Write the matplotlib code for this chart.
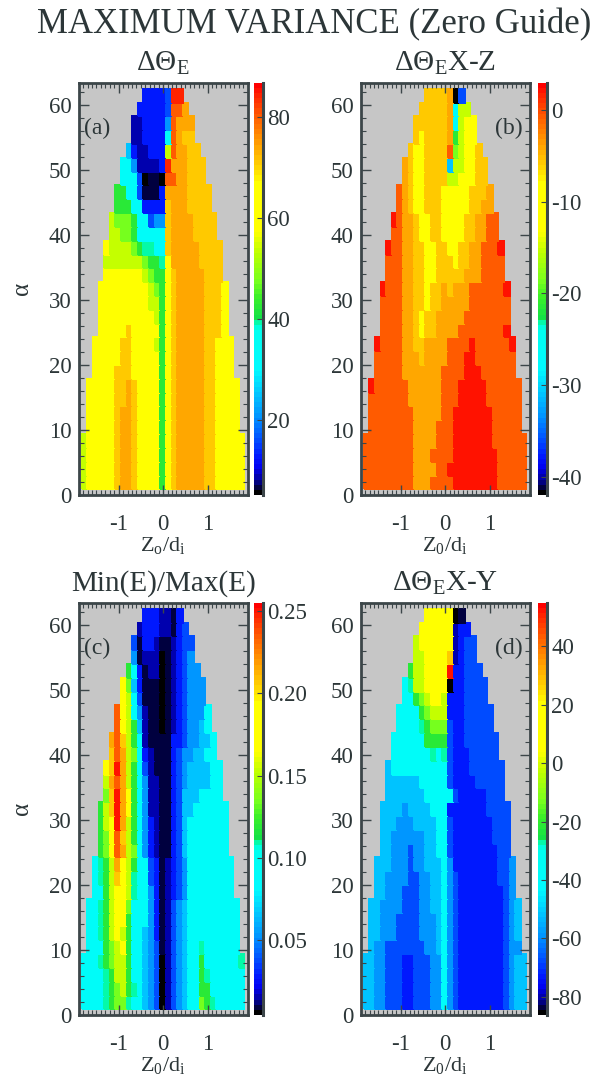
import numpy as np
import matplotlib
matplotlib.use("Agg")
import matplotlib.pyplot as plt
from matplotlib.colors import LinearSegmentedColormap
from matplotlib.ticker import MultipleLocator

plt.rcParams['font.family'] = ['Liberation Serif', 'DejaVu Serif']
plt.rcParams['mathtext.fontset'] = 'custom'
plt.rcParams['mathtext.rm'] = 'Liberation Serif'
plt.rcParams['mathtext.it'] = 'Liberation Serif:italic'
plt.rcParams['axes.unicode_minus'] = False

INK = '#2c3638'
FRAME = '#3c4649'
GREY = '#c6c6c6'

# colour code of each cell -> place on the colour bar (0 = bottom, 1 = top)
levels = {'k': 0.005, 'n': 0.02, 'd': 0.045, 'b': 0.09, 'm': 0.13, 'l': 0.19,
          's': 0.24, 'c': 0.34, 't': 0.415, 'g': 0.46, 'h': 0.52, 'y': 0.59,
          'Y': 0.70, 'o': 0.80, 'O': 0.845, 'r': 0.92, 'R': 0.975}

# rows from alpha ~61 (top) down to alpha ~2, only the filled cells (centred on Z0 = 0)
rows_a = ["bbbbmRR", "bbbbbmrrO", "ddbbbblrOOO", "ddbbbbcrOoo", "sbddbbbyrOOoo",
          "cclddddbROOOooo", "cccmknnkrrOOooo", "ggccmnnnbOOOOoooo", "gggccbbbboOOOoooo",
          "yhhhgccmlloOOOOoooo", "yyhhgcccccoOOOOoooo",
          "YyyyyhgttccoOOOOOoooo", "yyyyyyyhggtYOOOOOoooo", "YYYYYYYyhggYoOOOOOooo",
          "YYYYYYYYYyhgYoOOOOOoooY", "YYYYYYYYYyygYoOOOOOoooY",
          "YYYYYYYYYYygYoOOOOOoooY", "YYYYYoYYYYYgYoOOOOOoooY",
          "YYYYYooYYYYygYoOOOOOooYYY", "YYYYYooYYYYYgYoOOOOOooYYY", "YYYYoooYYYYYgYoOOOOOooYYY",
          "YYYYYooOoYYYYgYoOOOOOooYYYY", "YYYYYooOoYYYYgYoOOOOOooYYYY",
          "YYYYYoOOoYYYYgYoOOOOOooYYYY", "YYYYYoOOoYYYYgYoOOOOOooYYYY",
          "yYYYYYoOOoYYYYgYoOOOOOooYYYYY", "yYYYYYoOOoYYYYgYoOOOOOooYYYYY",
          "yYYYYYoOOoYYYYgYoOOOOOooYYYYY", "yYYYYYoOOoYYYYgYoOOOOOooYYYYY"]

rows_b = ["ooooOkm", "oooooOcyy", "ooooooOcyYY", "oYooooOgyYY", "oYYoooorhyYYo",
          "OoYYoooosyyYYoo", "OoYYooooyyYYYoo", "rOoYYoooYYYYYoooO", "rOoYYoooYYYYYooOO",
          "RrOOoYYooYYYYooOOrr", "rrOOoYYooYYYYooOOrr",
          "RrrOOooYYooYYooOOrrrR", "rrrOOooYYoooYooOOrrrr", "rrrOOooYYoooooOOOrrrr",
          "RrrrOOooYooOoOOOrrrrrrR", "rrrrOOooYooOOOOOrrrrrrr",
          "rrrrOOoYooOOOOOrrrrrrrr", "rrrrOOoYooOOOOrrrrrrrrR",
          "RrrrrOOooOOOOrrrrRrrrrrrR", "rrrrrOOOoOOOOrrrRRrrrrrrr", "rrrrrOOOOOOOrrrrRRRrrrrrr",
          "RrrrrrrOOOOOOrrrRRRRRrrrrrr", "rrrrrrrOOOOOOrrrRRRRRrrrrrr",
          "rrrrrrrrOOOOOrrRRRRRRRrrrrr", "rrrrrrrrOOOOrrrRRRRRRRrrrrr",
          "rrrrrrrrrOOOOrrrRRRRRRRrrrrrr", "rrrrrrrrrOOOrrrrRRRRRRRRrrrrr",
          "rrrrrrrrrOOOOrrRRRRRRRRRrrrrr", "rrrrrrrrrOOOrrrrRRRRRRRRrrrrr"]

rows_c = ["bbbddnb", "dbbbddnbm", "mnbbdnndbmm", "lndddkndbml", "gcbnddkndbmll",
          "Yhsbnnnkndbmlll", "Yycmnnnkndbmlll", "rYycldnnkndbmlllc", "rYygsdnnkndbmllsc",
          "Oroygcdnnnnbbmllssc", "orOyhcbdnnnbmllsscc",
          "YoROygcmdnnnbmlsssscc", "yOrOygclddnnbmlsssscc", "hoROYgclddnnbmssscccc",
          "gyoROYgclddnnbmsscccccc", "gyYROygclbdnnbmsccccccc",
          "ghYroygclbdnnbmsccccccc", "ghYrOyhclbdnnbmsccccccc",
          "ctgyOYygccmbndbmlcccccccc", "ctgyoYytccmbndbmlcccccccc", "ccgyYYytcclbndbmlcccccccc",
          "cctgyYYhccclbndmlsccccccccc", "cctgyYYgccclbndmlsccccccccc",
          "cctgyYygccslbndmlsccccccccc", "cccghyYgccslmndmlscctcccccc",
          "ccctghyygccslmkdmlsccgcccccct", "cccctgyygccslmkdmlsccgtcccccc",
          "cccctghygtcslmkdmlsccggcccccc", "cccctghhtccslmkdmlscchgtccccc"]

rows_d = ["YYYYYkn", "YYYYYYdbb", "yYYYYYYdbmm", "yyYYYYodbmm", "gyyYYYYRbbmmm",
          "ctyyYYYYkbbmmmm", "ccghyYYybbbmmmm", "ccccghyyybbbmmmmm", "cccctghhhmbbmmmmm",
          "ccccccggggmbbmmmmmm", "ccccccctctmbbbmmmmm",
          "sccccccccccmbbbmmmmmm", "sssssscccccmbbbbmmmmm", "ssssssscccccmbbbbbmmm",
          "sssslssssccc" + "bbbbbbbmmmm", "ssslllsssscc" + "mbbbbbbbmmm",
          "ssllllllsscc" + "mbbbbbbbmmm", "sslllmllsscc" + "mbbbbbbbbmm",
          "ssslllmllsssc" + "lbbbbbbbbmml", "ssllllmmllssc" + "lmbbbbbbbmml",
          "sslllmmmllssc" + "lmbbbbbbbbml",
          "ssllllmmmllssc" + "lmbbbbbbbbmls", "sslllmmmmlllsc" + "lmbbbbbbbbmls",
          "sslllmmmmlllsc" + "lmbbbbbbbbmls", "sllmmmmmmmllsc" + "lmbbbbbbbbmll",
          "ssllmmmbbmmmllc" + "lmbbbbbbbbmlss", "ssllmmmbbmmmllc" + "lmbbbbbbbbmlss",
          "ssllmmmbbmmmllc" + "lmbbbbbbbbmlss", "ssllmmmbbmmmllc" + "lmbbbbbbbbmlss"]

# colour bar ranges and ticks
range_a = (5.2, 86.7)
range_b = (-42.0, 3.0)
range_c = (0.0047, 0.255)
range_d = (-86.3, 55.0)
cticks_a = [20, 40, 60, 80]
cticks_b = [-40, -30, -20, -10, 0]
cticks_c = [0.05, 0.10, 0.15, 0.20, 0.25]
cticks_d = [-80, -60, -40, -20, 0, 20, 40]

titles = ['ΔΘ$_\\mathregular{E}$', 'ΔΘ$_\\mathregular{E}$X-Z', 'Min(E)/Max(E)', 'ΔΘ$_\\mathregular{E}$X-Y']
xlabels = ['Z$_\\mathregular{o}$/d$_\\mathregular{i}$', 'Z$_\\mathregular{0}$/d$_\\mathregular{i}$',
           'Z$_\\mathregular{0}$/d$_\\mathregular{i}$', 'Z$_\\mathregular{0}$/d$_\\mathregular{i}$']
tags = ['(a)', '(b)', '(c)', '(d)']

# grid of the simulation scan: 29 x 29 cells
z_edges = np.linspace(-1.83, 1.83, 30)
alpha_edges = np.linspace(0.87, 62.46, 30)

anchors = [(0.0, (0, 0, 0)), (0.012, (0, 0, 60)), (0.03, (0, 0, 150)), (0.06, (0, 0, 240)),
           (0.09, (0, 25, 255)), (0.13, (0, 80, 255)), (0.19, (0, 150, 255)),
           (0.24, (0, 195, 255)), (0.30, (0, 250, 255)), (0.40, (0, 255, 240)),
           (0.415, (0, 255, 190)), (0.43, (20, 225, 70)), (0.48, (60, 240, 40)),
           (0.52, (120, 255, 30)), (0.59, (190, 255, 0)), (0.64, (255, 255, 0)),
           (0.76, (255, 255, 0)), (0.80, (255, 210, 0)), (0.845, (255, 170, 0)),
           (0.92, (255, 95, 0)), (0.975, (255, 35, 0)), (1.0, (255, 0, 0))]
cmap = LinearSegmentedColormap.from_list(
    'idl', [(p, tuple(v / 255 for v in c)) for p, c in anchors], N=80)


def decode(rows, vmin, vmax):
    grid = np.full((29, 29), np.nan)
    for i, row in enumerate(rows):
        assert len(row) % 2 == 1, (i, row)
        row = row.center(29, '.')
        for j, ch in enumerate(row):
            if ch != '.':
                grid[28 - i, j] = vmin + levels[ch] * (vmax - vmin)
    return np.ma.masked_invalid(grid)


fig = plt.figure(figsize=(5.94, 10.77), dpi=100)
W, H = 594.0, 1077.0

panels = [(rows_a, range_a, cticks_a, '%d'), (rows_b, range_b, cticks_b, '%d'),
          (rows_c, range_c, cticks_c, '%.2f'), (rows_d, range_d, cticks_d, '%d')]
ax_left = [78.7, 360.7, 78.7, 360.7]
cb_left = [254.3, 538.0, 254.3, 538.0]
ax_top = [82.7, 82.7, 602.7, 602.7]
ax_w = 168.8
ax_h = 412.3

for k in range(4):
    rows, (vmin, vmax), cticks, fmt = panels[k]
    rect = [ax_left[k] / W, 1 - (ax_top[k] + ax_h) / H, ax_w / W, ax_h / H]
    ax = fig.add_axes(rect)
    ax.set_facecolor(GREY)
    mesh = ax.pcolormesh(z_edges, alpha_edges, decode(rows, vmin, vmax),
                         cmap=cmap, vmin=vmin, vmax=vmax, shading='flat',
                         edgecolors='face', linewidth=0.3, antialiased=False)
    ax.set_xlim(-1.9, 1.9)
    ax.set_ylim(0, 63.4)
    ax.set_xticks([-1, 0, 1])
    ax.set_yticks([0, 10, 20, 30, 40, 50, 60])
    ax.xaxis.set_minor_locator(MultipleLocator(0.1))
    ax.yaxis.set_minor_locator(MultipleLocator(2))
    ax.tick_params(which='both', direction='in', top=True, right=True, color=FRAME,
                   labelcolor=INK, labelsize=16.5)
    ax.tick_params(which='major', length=7, width=1)
    ax.tick_params(which='minor', length=3.5, width=0.8)
    ax.tick_params(axis='x', pad=14)
    ax.tick_params(axis='y', pad=5)
    for sp in ax.spines.values():
        sp.set_color(FRAME)
        sp.set_linewidth(2)
    ax.set_title(titles[k], fontsize=21, color=INK, pad=8.5)
    ax.set_xlabel(xlabels[k], fontsize=16, color=INK)
    ax.xaxis.set_label_coords(0.5, -0.098)
    if k % 2 == 0:
        ax.set_ylabel('α', fontsize=18, color=INK)
        ax.yaxis.set_label_coords(-0.27, 0.5)
        ax.text(0.03, 0.89, tags[k], transform=ax.transAxes, fontsize=17,
                color=INK, ha='left', va='center')
    else:
        ax.text(0.96, 0.89, tags[k], transform=ax.transAxes, fontsize=17,
                color=INK, ha='right', va='center')

    cax = fig.add_axes([cb_left[k] / W, rect[1], 9.0 / W, rect[3]])
    cb = fig.colorbar(mesh, cax=cax, ticks=cticks, format=fmt)
    cb.outline.set_visible(False)
    cax.plot([1, 1], [0, 1], transform=cax.transAxes, color=FRAME, lw=2.2, clip_on=False)
    cax.tick_params(direction='in', length=4, width=0.8, color=FRAME,
                    labelcolor=INK, labelsize=16.5, pad=3)

fig.text(0.528, 1 - 33 / H, 'MAXIMUM VARIANCE (Zero Guide)', ha='center', va='baseline',
         fontsize=25, color=INK)

fig.savefig('out.png', dpi=100)
